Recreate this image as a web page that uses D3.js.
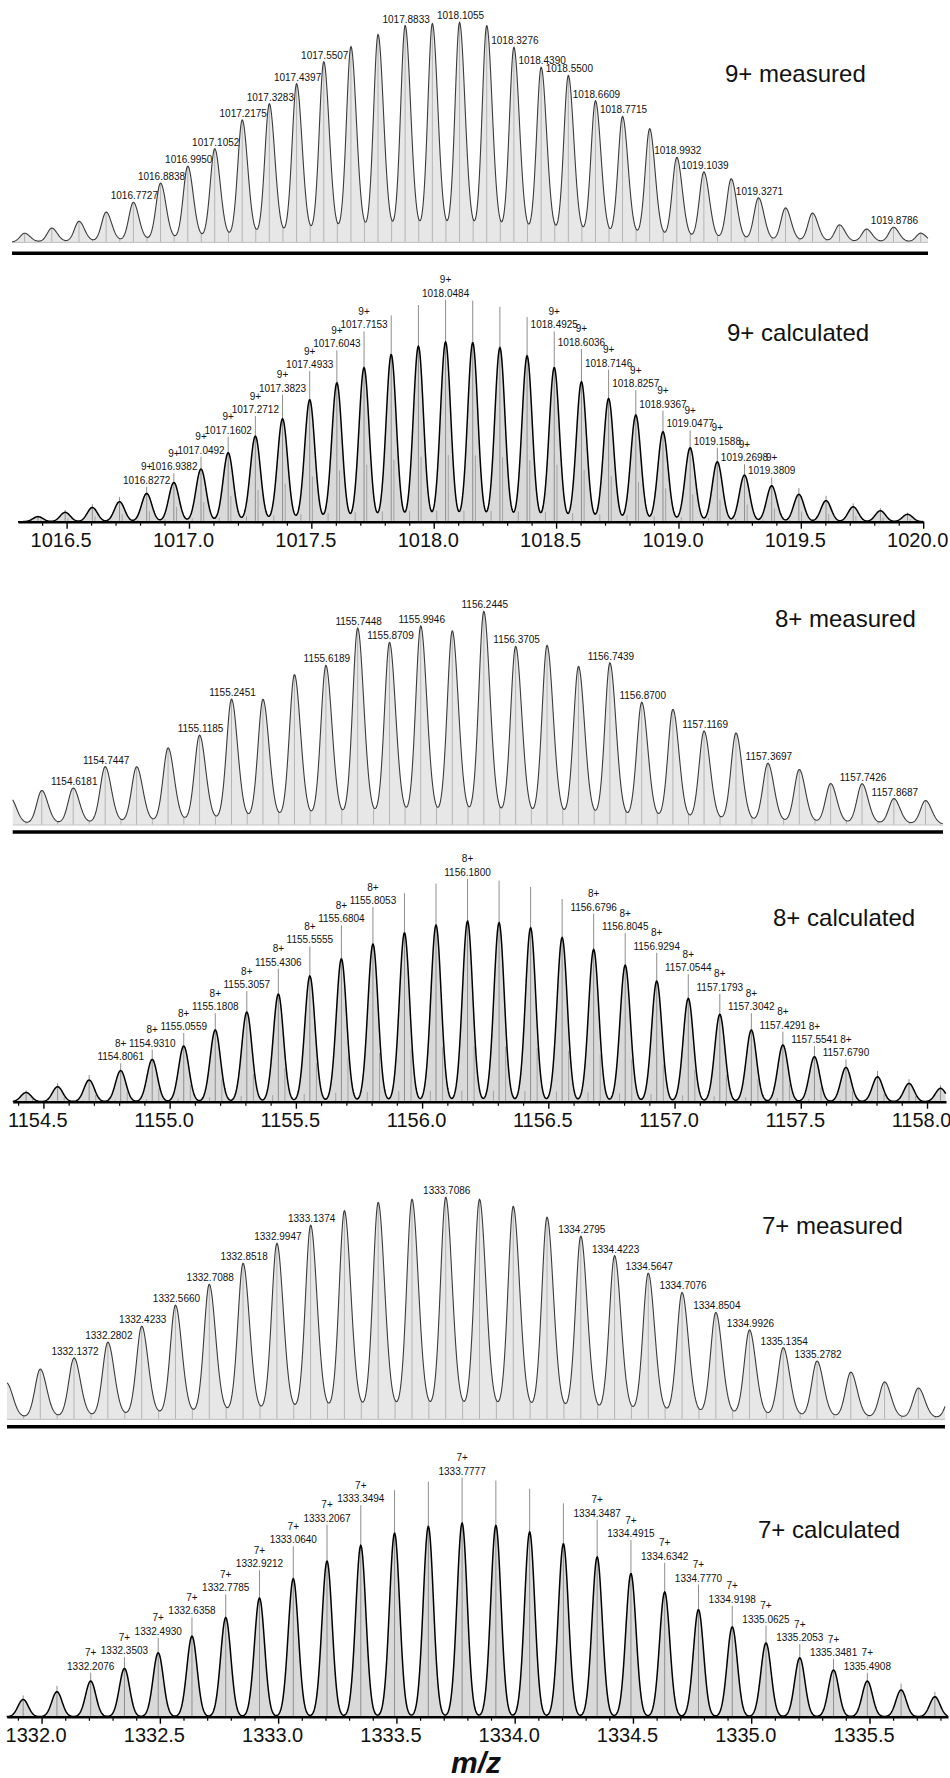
<!DOCTYPE html>
<html>
<head>
<meta charset="utf-8">
<script src="https://cdn.jsdelivr.net/npm/d3@7"></script>
<style>
  body { margin: 0; background: #fff; }
  svg { display: block; font-family: "Liberation Sans", Arial, Helvetica, sans-serif; }
</style>
</head>
<body>
<svg id="chart" width="950" height="1778"></svg>
<script>
// ---------- 9+ charge state ----------
const mz9Measured = [1016.3283, 1016.4394, 1016.5505, 1016.6616, 1016.7727, 1016.8838, 1016.9950, 1017.1052,
  1017.2175, 1017.3283, 1017.4397, 1017.5507, 1017.6617, 1017.7725, 1017.8833, 1017.9944, 1018.1055, 1018.2166,
  1018.3276, 1018.4390, 1018.5500, 1018.6609, 1018.7715, 1018.8823, 1018.9932, 1019.1039, 1019.2155, 1019.3271,
  1019.4374, 1019.5477, 1019.6580, 1019.7683, 1019.8786, 1019.9897];
const int9Measured = [4.1, 6.4, 9.5, 13.7, 18.1, 26.9, 34.6, 42.5, 55.7, 63.0, 72.1, 82.2, 89.0, 94.5, 98.6, 99.5,
  100, 98.6, 88.6, 79.5, 75.8, 64.2, 57.1, 51.6, 38.4, 31.8, 28.8, 20.1, 15.5, 13.2, 7.8, 5.9, 6.8, 4.1];
const labels9Measured = [1016.7727, 1016.8838, 1016.9950, 1017.1052, 1017.2175, 1017.3283, 1017.4397, 1017.5507,
  1017.8833, 1018.1055, 1018.3276, 1018.4390, 1018.5500, 1018.6609, 1018.7715, 1018.9932, 1019.1039, 1019.3271,
  1019.8786];

const mz9Calc = [1016.3832, 1016.4942, 1016.6052, 1016.7162, 1016.8272, 1016.9382, 1017.0492, 1017.1602, 1017.2712,
  1017.3823, 1017.4933, 1017.6043, 1017.7153, 1017.8263, 1017.9374, 1018.0484, 1018.1594, 1018.2704, 1018.3815,
  1018.4925, 1018.6036, 1018.7146, 1018.8257, 1018.9367, 1019.0477, 1019.1588, 1019.2698, 1019.3809, 1019.4919,
  1019.6030, 1019.7140, 1019.8251, 1019.9361];
const int9Calc = [2.8, 5.2, 7.9, 11.1, 15.7, 21.8, 29.3, 38.3, 47.6, 57.2, 67.8, 77.2, 85.7, 92.9, 97.6, 100, 99.6,
  96.8, 92.2, 85.7, 77.8, 68.5, 59.3, 50.0, 41.1, 33.3, 25.9, 20.0, 15.2, 11.7, 8.3, 6.1, 4.1];
const labels9Calc = [1016.8272, 1016.9382, 1017.0492, 1017.1602, 1017.2712, 1017.3823, 1017.4933, 1017.6043,
  1017.7153, 1018.0484, 1018.4925, 1018.6036, 1018.7146, 1018.8257, 1018.9367, 1019.0477, 1019.1588, 1019.2698,
  1019.3809];
const ticks9 = [1016.5, 1017.0, 1017.5, 1018.0, 1018.5, 1019.0, 1019.5, 1020.0];

// ---------- 8+ charge state ----------
const mz8Measured = [1154.3690, 1154.4936, 1154.6181, 1154.7447, 1154.8693, 1154.9939, 1155.1185, 1155.2451,
  1155.3697, 1155.4943, 1155.6189, 1155.7448, 1155.8709, 1155.9946, 1156.1195, 1156.2445, 1156.3705, 1156.4950,
  1156.6195, 1156.7439, 1156.8700, 1156.9935, 1157.1169, 1157.2433, 1157.3697, 1157.4940, 1157.6183, 1157.7426,
  1157.8687, 1157.9940];
const int8Measured = [12.7, 16.1, 17.2, 27.3, 27.1, 36.0, 41.9, 58.9, 58.6, 70.3, 74.5, 92.2, 85.2, 93.0, 90.6, 100,
  83.3, 83.9, 73.9, 75.8, 57.1, 53.9, 43.7, 43.0, 28.6, 25.8, 19.2, 19.2, 12.2, 11.4];
const labels8Measured = [1154.6181, 1154.7447, 1155.1185, 1155.2451, 1155.6189, 1155.7448, 1155.8709, 1155.9946,
  1156.2445, 1156.3705, 1156.7439, 1156.8700, 1157.1169, 1157.3697, 1157.7426, 1157.8687];

const mz8Calc = [1154.4314, 1154.5563, 1154.6812, 1154.8061, 1154.9310, 1155.0559, 1155.1808, 1155.3057, 1155.4306,
  1155.5555, 1155.6804, 1155.8053, 1155.9302, 1156.0551, 1156.1800, 1156.3049, 1156.4298, 1156.5547, 1156.6796,
  1156.8045, 1156.9294, 1157.0544, 1157.1793, 1157.3042, 1157.4291, 1157.5541, 1157.6790, 1157.8039, 1157.9288,
  1158.0537];
const int8Calc = [5.1, 8.3, 12.0, 17.2, 23.4, 30.8, 39.7, 49.6, 59.6, 69.6, 79.1, 87.3, 93.5, 97.8, 100, 99.1, 96.3,
  90.9, 84.3, 75.6, 66.8, 57.2, 48.3, 39.7, 31.4, 24.9, 19.0, 13.8, 10.1, 7.4];
const labels8Calc = [1154.8061, 1154.9310, 1155.0559, 1155.1808, 1155.3057, 1155.4306, 1155.5555, 1155.6804,
  1155.8053, 1156.1800, 1156.6796, 1156.8045, 1156.9294, 1157.0544, 1157.1793, 1157.3042, 1157.4291, 1157.5541,
  1157.6790];
const ticks8 = [1154.5, 1155.0, 1155.5, 1156.0, 1156.5, 1157.0, 1157.5, 1158.0];

// ---------- 7+ charge state ----------
const mz7Measured = [1331.8516, 1331.9944, 1332.1372, 1332.2802, 1332.4233, 1332.5660, 1332.7088, 1332.8518,
  1332.9947, 1333.1374, 1333.2802, 1333.4230, 1333.5658, 1333.7086, 1333.8513, 1333.9940, 1334.1368, 1334.2795,
  1334.4223, 1334.5647, 1334.7076, 1334.8504, 1334.9926, 1335.1354, 1335.2782, 1335.4210, 1335.5638, 1335.7066,
  1335.8494];
const int7Measured = [16.5, 22.6, 27.6, 34.7, 41.9, 51.4, 60.8, 70.3, 79.3, 87.5, 94.0, 97.7, 99.1, 100, 99.1, 95.9,
  91.0, 82.4, 73.6, 65.7, 57.0, 48.0, 40.1, 32.1, 26.1, 21.1, 16.7, 14.0, 13.6];
const labels7Measured = [1332.1372, 1332.2802, 1332.4233, 1332.5660, 1332.7088, 1332.8518, 1332.9947, 1333.1374,
  1333.7086, 1334.2795, 1334.4223, 1334.5647, 1334.7076, 1334.8504, 1334.9926, 1335.1354, 1335.2782];

const mz7Calc = [1331.9221, 1332.0649, 1332.2076, 1332.3503, 1332.4930, 1332.6358, 1332.7785, 1332.9212, 1333.0640,
  1333.2067, 1333.3494, 1333.4922, 1333.6350, 1333.7777, 1333.9205, 1334.0633, 1334.2060, 1334.3487, 1334.4915,
  1334.6342, 1334.7770, 1334.9198, 1335.0625, 1335.2053, 1335.3481, 1335.4908, 1335.6336, 1335.7764];
const int7Calc = [8.9, 12.9, 18.4, 24.9, 33.0, 41.6, 51.2, 61.3, 71.3, 80.4, 88.5, 94.8, 98.3, 100, 98.8, 95.4, 89.3,
  82.5, 73.9, 64.4, 55.3, 46.4, 38.1, 30.4, 24.1, 18.4, 13.8, 10.3];
const labels7Calc = [1332.2076, 1332.3503, 1332.4930, 1332.6358, 1332.7785, 1332.9212, 1333.0640, 1333.2067,
  1333.3494, 1333.7777, 1334.3487, 1334.4915, 1334.6342, 1334.7770, 1334.9198, 1335.0625, 1335.2053, 1335.3481,
  1335.4908];
const ticks7 = [1332.0, 1332.5, 1333.0, 1333.5, 1334.0, 1334.5, 1335.0, 1335.5];

// ---------- drawing ----------
const svg = d3.select("#chart");
const fmt4 = d3.format(".4f");
const fmt1 = d3.format(".1f");
const FONT = '"Liberation Sans", Arial, Helvetica, sans-serif';
const PROFILE_RATIO = 0.81;   // profile apex relative to its isotope stick

// slightly right-tailing pseudo-Voigt line shape for the measured profiles
function measuredShape(d, fwhm, eta) {
  const h = d < 0 ? fwhm * 0.45 : fwhm * 0.55;
  const r = d / h;
  return (1 - eta) * Math.exp(-Math.LN2 * r * r) + eta / (1 + r * r);
}
function gaussShape(d, fwhm) {
  const r = d / (fwhm / 2);
  return Math.exp(-Math.LN2 * r * r);
}

function title(g, text, x, y) {
  g.append("text").attr("x", x).attr("y", y)
    .attr("font-size", 24).attr("fill", "#111").attr("font-family", FONT)
    .text(text);
}

function drawMeasured(c) {
  const g = svg.append("g");
  const x = c.x;
  const y = d3.scaleLinear().domain([0, 100]).range([c.base, c.base - c.peakPx]);
  const f = m => d3.sum(c.mz, (p, i) => c.ints[i] * measuredShape(m - p, c.fwhm, c.eta));
  const pts = d3.range(c.x0, c.x1 + 0.001, 0.5).map(px => [px, f(x.invert(px))]);

  g.append("path")
    .attr("d", d3.area().x(d => d[0]).y0(c.base).y1(d => y(d[1]))(pts))
    .attr("fill", "#e7e7e7");

  // drop lines at every peak and every valley
  const drops = [];
  c.mz.forEach((m, i) => {
    drops.push(m);
    if (i < c.mz.length - 1) drops.push((m + c.mz[i + 1]) / 2);
  });
  g.selectAll("line.drop")
    .data(drops.filter(m => x(m) >= c.x0 && x(m) <= c.x1))
    .join("line")
    .attr("x1", d => x(d)).attr("x2", d => x(d))
    .attr("y1", c.base).attr("y2", d => y(f(d)))
    .attr("stroke", "#b4b4b4").attr("stroke-width", 1);

  g.append("line").attr("x1", c.x0).attr("x2", c.x1).attr("y1", c.base).attr("y2", c.base)
    .attr("stroke", "#c6c6c6").attr("stroke-width", 1.2);

  g.append("path")
    .attr("d", d3.line().x(d => d[0]).y(d => y(d[1]))(pts))
    .attr("fill", "none").attr("stroke", "#3a3a3a").attr("stroke-width", 1.1);

  g.append("line").attr("x1", c.x0).attr("x2", c.x1).attr("y1", c.rule).attr("y2", c.rule)
    .attr("stroke", "#000").attr("stroke-width", 3.4);

  g.selectAll("text.peak")
    .data(c.labels)
    .join("text")
    .attr("x", d => x(d) + 1)
    .attr("y", d => y(f(d)) - 3)
    .attr("text-anchor", "middle")
    .attr("font-size", 10).attr("fill", "#111").attr("font-family", FONT)
    .text(d => fmt4(d));

  title(g, c.title, c.tx, c.ty);
}

function drawCalc(c) {
  const g = svg.append("g");
  const x = c.x;
  const [r0, r1] = x.range();
  const y = d3.scaleLinear().domain([0, 100]).range([c.base, c.base - c.stickPx]);
  const f = m => d3.sum(c.mz, (p, i) => c.ints[i] * PROFILE_RATIO * gaussShape(m - p, c.fwhm));
  const pts = d3.range(r0, r1 + 0.001, 0.5).map(px => [px, f(x.invert(px))]);

  g.append("path")
    .attr("d", d3.area().x(d => d[0]).y0(c.base).y1(d => y(d[1]))(pts))
    .attr("fill", "#d9d9d9");

  // fine-structure sticks beside each main isotope stick
  const fine = [];
  c.mz.forEach((m, i) => c.fineOffsets.forEach((o, k) => fine.push({ m: m + o, v: c.ints[i] * c.fineRatios[k] })));
  g.selectAll("line.fine")
    .data(fine.filter(d => x(d.m) >= r0 && x(d.m) <= r1))
    .join("line")
    .attr("x1", d => x(d.m)).attr("x2", d => x(d.m))
    .attr("y1", c.base).attr("y2", d => y(d.v))
    .attr("stroke", "#a2a2a2").attr("stroke-width", 1);

  g.selectAll("line.stick")
    .data(c.mz.map((m, i) => ({ m, v: c.ints[i] })))
    .join("line")
    .attr("x1", d => x(d.m)).attr("x2", d => x(d.m))
    .attr("y1", c.base).attr("y2", d => y(d.v))
    .attr("stroke", "#8e8e8e").attr("stroke-width", 1);

  g.append("path")
    .attr("d", d3.line().x(d => d[0]).y(d => y(d[1]))(pts))
    .attr("fill", "none").attr("stroke", "#000").attr("stroke-width", 1.5);

  // axis: minor ticks every 0.1, labelled major ticks every 0.5
  const [d0, d1] = x.domain();
  const minor = d3.range(Math.ceil(d0 * 10 - 1e-6), Math.floor(d1 * 10 + 1e-6) + 1).map(k => k / 10)
    .filter(v => Math.abs(v * 2 - Math.round(v * 2)) > 1e-6);
  const minorG = g.append("g").attr("transform", `translate(0,${c.base})`)
    .call(d3.axisBottom(x).tickValues(minor).tickSize(4).tickFormat(""));
  minorG.select(".domain").remove();
  minorG.selectAll("line").attr("stroke", "#000").attr("stroke-width", 1.2);

  const majorG = g.append("g").attr("transform", `translate(0,${c.base})`)
    .call(d3.axisBottom(x).tickValues(c.ticks).tickSize(7).tickSizeOuter(0).tickPadding(4).tickFormat(fmt1));
  majorG.select(".domain").attr("stroke", "#000").attr("stroke-width", 2.6);
  majorG.selectAll("line").attr("stroke", "#000").attr("stroke-width", 1.4);
  majorG.selectAll("text")
    .attr("font-size", 20).attr("font-family", FONT).attr("fill", "#111").attr("dx", -6);

  const labelled = c.labels.map(m => {
    const i = c.mz.findIndex(p => Math.abs(p - m) < 1e-6);
    return { m, v: c.ints[i] };
  });
  const lg = g.selectAll("g.lab").data(labelled).join("g")
    .attr("transform", d => `translate(${x(d.m)},${y(d.v) - 3})`);
  lg.append("text").attr("text-anchor", "middle")
    .attr("font-size", 10).attr("fill", "#111").attr("font-family", FONT)
    .text(d => fmt4(d.m));
  lg.append("text").attr("text-anchor", "middle").attr("y", -13.5)
    .attr("font-size", 10).attr("fill", "#111").attr("font-family", FONT)
    .text(c.charge);

  title(g, c.title, c.tx, c.ty);
}

// shared m/z scales per charge state (measured and calculated panels line up)
const x9 = d3.scaleLinear().domain([1016.3014, 1020.0]).range([18, 923.2]);
const x8 = d3.scaleLinear().domain([1154.3784, 1158.0752]).range([12.7, 946]);
const x7 = d3.scaleLinear().domain([1331.8525, 1335.8319]).range([6.7, 948]);

drawMeasured({ x: x9, mz: mz9Measured, ints: int9Measured, labels: labels9Measured,
  base: 242.3, peakPx: 216, rule: 253.3, x0: 12, x1: 928, fwhm: 0.049, eta: 0.13,
  title: "9+ measured", tx: 725, ty: 82 });
drawCalc({ x: x9, mz: mz9Calc, ints: int9Calc, labels: labels9Calc, ticks: ticks9, charge: "9+",
  base: 521.7, stickPx: 222, fwhm: 0.049, fineOffsets: [-0.036, 0.011], fineRatios: [0.05, 0.3],
  title: "9+ calculated", tx: 727, ty: 340.5 });

drawMeasured({ x: x8, mz: mz8Measured, ints: int8Measured, labels: labels8Measured,
  base: 825, peakPx: 210, rule: 832, x0: 12.7, x1: 943, fwhm: 0.053, eta: 0.15,
  title: "8+ measured", tx: 775, ty: 627 });
drawCalc({ x: x8, mz: mz8Calc, ints: int8Calc, labels: labels8Calc, ticks: ticks8, charge: "8+",
  base: 1101.7, stickPx: 223, fwhm: 0.048, fineOffsets: [-0.0225, 0.026], fineRatios: [0.05, 0.25],
  title: "8+ calculated", tx: 773, ty: 926 });

drawMeasured({ x: x7, mz: mz7Measured, ints: int7Measured, labels: labels7Measured,
  base: 1419.3, peakPx: 218, rule: 1426.7, x0: 7, x1: 945, fwhm: 0.059, eta: 0.15,
  title: "7+ measured", tx: 762, ty: 1234 });
drawCalc({ x: x7, mz: mz7Calc, ints: int7Calc, labels: labels7Calc, ticks: ticks7, charge: "7+",
  base: 1716.7, stickPx: 239, fwhm: 0.051, fineOffsets: [], fineRatios: [],
  title: "7+ calculated", tx: 758, ty: 1538 });

// x-axis title
svg.append("text").attr("x", 476).attr("y", 1773).attr("text-anchor", "middle")
  .attr("font-size", 30).attr("font-style", "italic").attr("font-weight", "bold")
  .attr("fill", "#111").attr("font-family", FONT)
  .text("m/z");
</script>
</body>
</html>
